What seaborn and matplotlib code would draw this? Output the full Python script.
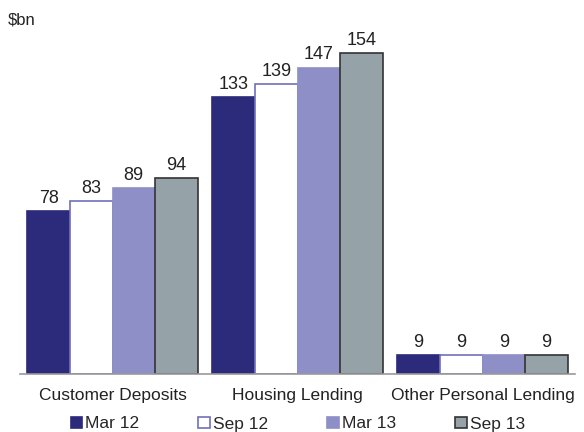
import pandas as pd
import seaborn as sns
import matplotlib.pyplot as plt
from matplotlib.patches import Patch

# Data
categories = ['Customer Deposits', 'Housing Lending', 'Other Personal Lending']
periods = ['Mar 12', 'Sep 12', 'Mar 13', 'Sep 13']
mar12 = [78, 133, 9]
sep12 = [83, 139, 9]
mar13 = [89, 147, 9]
sep13 = [94, 154, 9]

fills = ['#2b2a7b', '#ffffff', '#8e8fc6', '#95a3a8']
edges = ['#2b2a7b', '#7070bb', '#8e8fc6', '#333333']

df = pd.DataFrame({
    'Category': categories * 4,
    'Period': [p for p in periods for _ in categories],
    'Value': mar12 + sep12 + mar13 + sep13,
})

sns.set_style('white')
plt.rcParams['font.family'] = ['Liberation Sans', 'DejaVu Sans']

fig = plt.figure(figsize=(5.84, 4.32), dpi=100)
ax = fig.add_axes([20 / 584, 1 - 374 / 432, 555 / 584, 344 / 432])

sns.barplot(data=df, x='Category', y='Value', hue='Period', order=categories,
            hue_order=periods, palette=fills, width=0.92, gap=0, ax=ax,
            legend=False, saturation=1)

for i, cont in enumerate(ax.containers):
    for bar in cont:
        bar.set_edgecolor(edges[i])
        bar.set_linewidth(1.2)
    ax.bar_label(cont, padding=3, fontsize=13, color='#222222')

ax.set_xlim(-0.5, 2.5)
ax.set_ylim(0, 165)
ax.set_xlabel('')
ax.set_ylabel('')
ax.set_yticks([])
for side in ['left', 'right', 'top']:
    ax.spines[side].set_visible(False)
ax.spines['bottom'].set_color('#999999')
ax.spines['bottom'].set_linewidth(1.2)

ax.set_xticks([0, 1, 2])
ax.set_xticklabels(categories, fontsize=12.5, color='#222222')
ax.tick_params(axis='x', which='major', length=0, pad=10)
ax.set_xticks([-0.5, 0.5, 1.5, 2.5], minor=True)
ax.tick_params(axis='x', which='minor', length=5, width=1.2, color='#999999')

fig.text(8 / 584, 1 - 20 / 432, '$bn', fontsize=12, va='center', ha='left', color='#222222')

handles = [Patch(facecolor=f, edgecolor=e, linewidth=1.2) for f, e in zip(fills, edges)]
fig.legend(handles, periods, loc='center', bbox_to_anchor=(0.51, 1 - 424 / 432), ncol=4,
           frameon=False, fontsize=12.5, handlelength=0.65, handleheight=0.65,
           handletextpad=0.2, columnspacing=3.4, borderpad=0)

fig.savefig('out.png', dpi=100)
